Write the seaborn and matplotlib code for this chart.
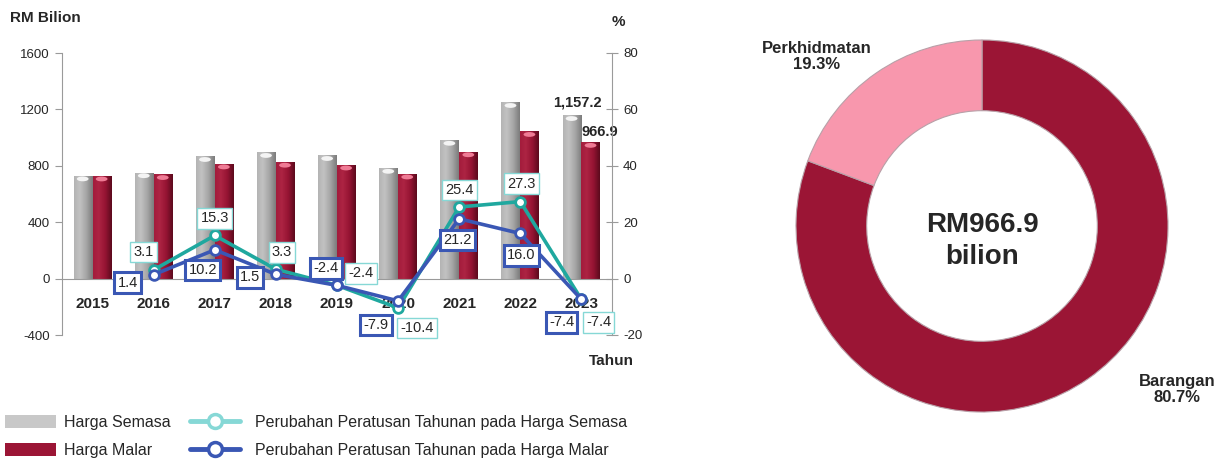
import matplotlib
matplotlib.use("Agg")
import matplotlib.pyplot as plt
import seaborn as sns
import pandas as pd
import numpy as np
from matplotlib.patches import Patch, Ellipse
from matplotlib.lines import Line2D
from matplotlib.colors import LinearSegmentedColormap

sns.set_style("white")
plt.rcParams['font.family'] = ['Liberation Sans', 'DejaVu Sans']
plt.rcParams['axes.unicode_minus'] = False

# ---------------- data ----------------
years = ["2015", "2016", "2017", "2018", "2019", "2020", "2021", "2022", "2023"]
harga_semasa = [729.1, 751.7, 866.7, 895.3, 873.8, 782.9, 981.7, 1249.7, 1157.2]
harga_malar = [728.5, 738.7, 814.0, 826.2, 806.4, 742.7, 900.2, 1044.2, 966.9]
growth_years = ["2016", "2017", "2018", "2019", "2020", "2021", "2022", "2023"]
growth_semasa = [3.1, 15.3, 3.3, -2.4, -10.4, 25.4, 27.3, -7.4]
growth_malar = [1.4, 10.2, 1.5, -2.4, -7.9, 21.2, 16.0, -7.4]
series_names = ["Harga Semasa", "Harga Malar"]
line_names = ["Perubahan Peratusan Tahunan pada Harga Semasa",
              "Perubahan Peratusan Tahunan pada Harga Malar"]
donut_labels = ["Barangan", "Perkhidmatan"]
donut_shares = [80.7, 19.3]
donut_total = "RM966.9\nbilion"

# ---------------- styles ----------------
GRAY = "#a9a9a9"
RED = "#9b1535"
TEAL = "#1fa89f"
TEAL_LIGHT = "#86d8d6"
BLUE = "#3a57b4"
PINK = "#f897ad"
SPINE = "#9a9a9a"

# label offsets in px (dx right, dy down) relative to each point
off_semasa = [(-10, -18), (0, -17), (6, -17), (24, -12), (19, 20), (0, -17), (1, -18), (17, 23)]
off_malar = [(-26, 8), (-12, 20), (-26, 3), (-11, -17), (-22, 24), (-2, 21), (1, 22), (-20, 23)]

W, H = 1223, 459
fig = plt.figure(figsize=(W / 100, H / 100), dpi=100)
PX = 72 / 100  # points per pixel

# ---------------- bar + line chart ----------------
ax = fig.add_axes([62 / W, 1 - 335 / H, 550 / W, 282 / H])
df = pd.DataFrame({
    "Tahun": years * 2,
    "Nilai": harga_semasa + harga_malar,
    "Siri": [series_names[0]] * len(years) + [series_names[1]] * len(years),
})
sns.barplot(data=df, x="Tahun", y="Nilai", hue="Siri", order=years,
            palette=[GRAY, RED], width=0.62, gap=0.0, saturation=1,
            legend=False, ax=ax, edgecolor="none")

ax.set_ylim(-400, 1600)
ax.set_xlim(-0.5, 8.5)

# cylinder-like shading on each bar
cm_gray = LinearSegmentedColormap.from_list("g", [(0, "#b4b4b4"), (0.3, "#c2c2c2"), (0.65, "#a6a6a6"), (1, "#7c7c7c")])
cm_red = LinearSegmentedColormap.from_list("r", [(0, "#a31c3c"), (0.3, "#ad2443"), (0.65, "#961433"), (1, "#5c0a1d")])
grad = np.linspace(0, 1, 64).reshape(1, -1)
n = len(years)
bar_patches = list(ax.patches)
for i, p in enumerate(bar_patches):
    x0, w, h = p.get_x(), p.get_width(), p.get_height()
    cmap = cm_gray if i < n else cm_red
    ax.imshow(grad, cmap=cmap, extent=[x0, x0 + w, 0, h], aspect="auto",
              interpolation="bilinear", zorder=p.get_zorder() + 0.1)
    cap = "#f4f4f4" if i < n else "#ef7b95"
    ax.add_patch(Ellipse((x0 + w * 0.48, h - 22), w * 0.62, 34, facecolor=cap,
                         edgecolor="none", zorder=p.get_zorder() + 0.2))
ax.set_xlim(-0.5, 8.5)
ax.set_ylim(-400, 1600)
ax.set_yticks([-400, 0, 400, 800, 1200, 1600])
ax.set_xlabel("")
ax.set_ylabel("")
for s in ["top", "right"]:
    ax.spines[s].set_visible(False)
ax.spines["left"].set_color(SPINE)
ax.spines["bottom"].set_color(SPINE)
ax.spines["bottom"].set_position(("data", 0))
ax.spines["bottom"].set_zorder(3)
ax.tick_params(axis="y", direction="out", length=5, color=SPINE, labelsize=9.5, pad=4)
ax.set_xticks(range(len(years)))
ax.set_xticklabels(years, fontweight="bold", fontsize=11)
ax.tick_params(axis="x", which="major", length=0, pad=13)
ax.set_xticks(np.arange(0.5, len(years) - 1, 1), minor=True)
ax.tick_params(axis="x", which="minor", length=6, direction="inout", color=SPINE)

# value labels on the last bars
last_g = bar_patches[n - 1]
last_r = bar_patches[2 * n - 1]
ax.annotate(f"{harga_semasa[-1]:,.1f}", (last_g.get_x() + last_g.get_width() / 2, harga_semasa[-1]),
            xytext=(5 * PX, 13 * PX), textcoords="offset points", ha="center", va="center",
            fontsize=10.5, fontweight="bold")
ax.annotate(f"{harga_malar[-1]:,.1f}", (last_r.get_x() + last_r.get_width() / 2, harga_malar[-1]),
            xytext=(9 * PX, 10 * PX), textcoords="offset points", ha="center", va="center",
            fontsize=10.5, fontweight="bold")

ax2 = ax.twinx()
xpos = [years.index(y) for y in growth_years]
for vals, col, edge, offs, lw_box in [
    (growth_semasa, TEAL, TEAL_LIGHT, off_semasa, 1.0),
    (growth_malar, BLUE, BLUE, off_malar, 2.2),
]:
    sns.lineplot(x=xpos, y=vals, ax=ax2, color=col, linewidth=2.6, marker="o",
                 markersize=7, markerfacecolor="white", markeredgecolor=col,
                 markeredgewidth=2, legend=False)
    for xp, v, (dx, dy) in zip(xpos, vals, offs):
        ax2.annotate(f"{v:.1f}", (xp, v), xytext=(dx * PX, -dy * PX),
                     textcoords="offset points", ha="center", va="center", fontsize=10.5,
                     bbox=dict(boxstyle="square,pad=0.22", fc="white", ec=edge, lw=lw_box),
                     zorder=5)
ax2.set_ylim(-20, 80)
ax2.set_yticks([-20, 0, 20, 40, 60, 80])
ax2.set_ylabel("")
ax2.set_xlim(-0.5, 8.5)
for s in ["top", "left", "bottom"]:
    ax2.spines[s].set_visible(False)
ax2.spines["right"].set_color(SPINE)
ax2.tick_params(axis="y", direction="inout", length=8, color=SPINE, labelsize=9.5, pad=4)

fig.text(10 / W, 1 - 18 / H, "RM Bilion", fontsize=11, fontweight="bold", va="center", ha="left")
fig.text(618 / W, 1 - 22 / H, "%", fontsize=11, fontweight="bold", va="center", ha="center")
fig.text(611 / W, 1 - 361 / H, "Tahun", fontsize=11, fontweight="bold", va="center", ha="center")

bar_handles = [
    Patch(facecolor="#c8c8c8", edgecolor="none"),
    Patch(facecolor=RED, edgecolor="none"),
]
line_handles = [
    Line2D([], [], color=TEAL_LIGHT, lw=3.5, marker="o", markersize=10,
           markerfacecolor="white", markeredgecolor=TEAL_LIGHT, markeredgewidth=2.5),
    Line2D([], [], color=BLUE, lw=3.5, marker="o", markersize=10,
           markerfacecolor="white", markeredgecolor=BLUE, markeredgewidth=2.5),
]
fig.legend(bar_handles, series_names, frameon=False,
           loc="upper left", bbox_to_anchor=(-3 / W, 1 - 407 / H), borderpad=0,
           fontsize=11.5, handlelength=3.2, handleheight=0.9, handletextpad=0.5,
           labelspacing=0.8)
fig.legend(line_handles, line_names, frameon=False,
           loc="upper left", bbox_to_anchor=(182 / W, 1 - 407 / H), borderpad=0,
           fontsize=11.5, handlelength=3.1, handleheight=0.9, handletextpad=0.95,
           labelspacing=0.8)

# ---------------- donut ----------------
R = 186
cx, cy = 982, 226
ax3 = fig.add_axes([(cx - R) / W, 1 - (cy + R) / H, 2 * R / W, 2 * R / H])
ax3.pie(donut_shares, colors=[RED, PINK], startangle=90, counterclock=False,
        radius=1.0, wedgeprops=dict(width=0.38, edgecolor="#b8a0a8", linewidth=0.8))
ax3.set_xlim(-1, 1)
ax3.set_ylim(-1, 1)
ax3.axis("off")
ax3.text(0, -0.08, donut_total, ha="center", va="center", fontsize=20,
         fontweight="bold", linespacing=1.3)
ax3.text(1.05, -0.88, f"{donut_labels[0]}\n{donut_shares[0]:.1f}%", ha="center", va="center",
         fontsize=12, fontweight="bold", clip_on=False, linespacing=1.1)
ax3.text(-0.89, 0.91, f"{donut_labels[1]}\n{donut_shares[1]:.1f}%", ha="center", va="center",
         fontsize=12, fontweight="bold", clip_on=False, linespacing=1.1)

fig.savefig("out.png", dpi=100)
